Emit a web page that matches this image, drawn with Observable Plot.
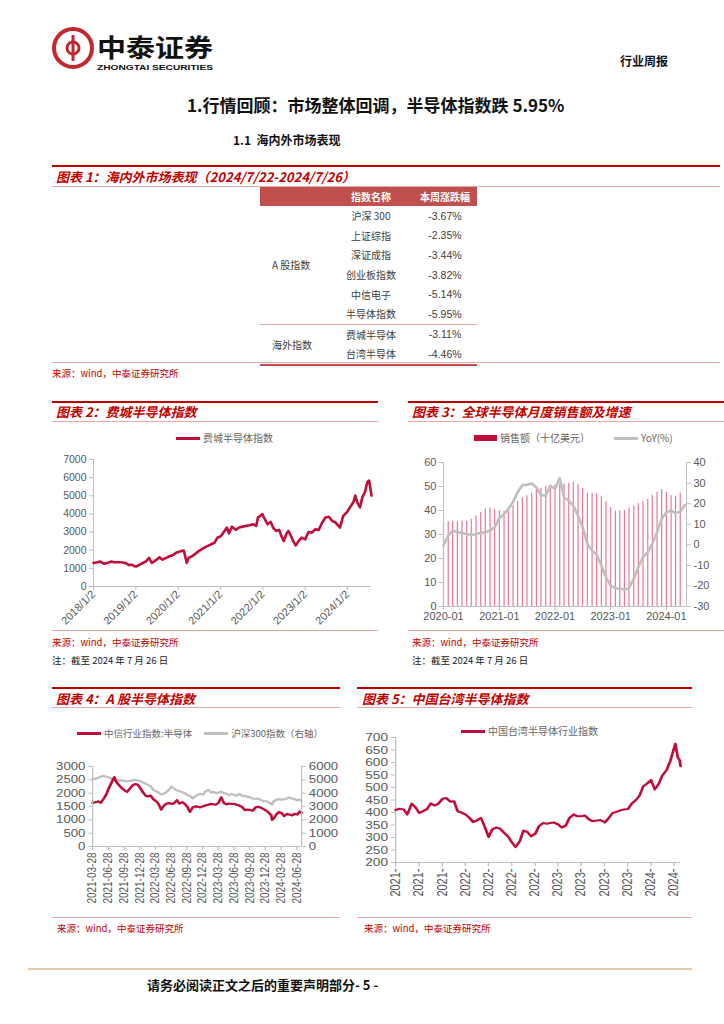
<!DOCTYPE html>
<html lang="zh-CN">
<head>
<meta charset="utf-8">
<script src="https://cdn.jsdelivr.net/npm/d3@7"></script>
<script src="https://cdn.jsdelivr.net/npm/@observablehq/plot@0.6"></script>
<style>
html,body{margin:0;padding:0;background:#fff}
body{width:724px;height:1024px;position:relative;overflow:hidden;font-family:"Noto Sans CJK SC","Liberation Sans",Arial,sans-serif}
.a{position:absolute;white-space:nowrap}
.rl{position:absolute;height:2px;background:#c00000}
.pl{position:absolute;height:1px;background:#eba8a8}
.ttl{position:absolute;white-space:nowrap;font-weight:700;font-style:italic;color:#c00000;font-size:13px;line-height:16px}
.src{position:absolute;white-space:nowrap;color:#c00000;font-size:9.5px;line-height:12px}
.note{position:absolute;white-space:nowrap;color:#222;font-size:9.5px;line-height:12px}
.lg{position:absolute;white-space:nowrap;display:flex;align-items:center;font-size:10px;color:#666;line-height:12px}
.sw{display:inline-block;height:3px;width:24px;margin-right:3px}
.plot{position:absolute}
.plot svg{transform-origin:0 0}
table.t{position:absolute;left:260px;top:187px;border-collapse:collapse;table-layout:fixed;width:217px}
table.t td,table.t th{padding:0;height:19.6px;font-size:10px;color:#404040;font-weight:400}
table.t th{background:#c0504d;color:#fff;font-weight:700;height:19px}
</style>
</head>
<body>
<!-- header -->
<svg class="a" style="left:48px;top:24px" width="180" height="50">
  <circle cx="25" cy="24" r="19" fill="none" stroke="#c1272d" stroke-width="4"/>
  <path d="M25 11 V37" stroke="#c1272d" stroke-width="3"/>
  <path d="M25 18 A6 6 0 1 0 25 30" fill="none" stroke="#c1272d" stroke-width="3"/>
  <path d="M25 18 A6 6 0 1 1 25 30" fill="none" stroke="#c1272d" stroke-width="3"/>
  <text x="49" y="33" font-size="25" font-weight="700" fill="#111" textLength="116" lengthAdjust="spacingAndGlyphs" font-family="Noto Sans CJK SC">中泰证券</text>
  <text x="49" y="46" font-size="8" font-weight="700" fill="#111" textLength="116" lengthAdjust="spacingAndGlyphs" font-family="Liberation Sans, Arial">ZHONGTAI SECURITIES</text>
</svg>
<div class="a" style="left:620px;top:52px;font-size:12px;font-weight:700;color:#111">行业周报</div>
<div class="a" style="left:187px;top:94px;font-size:17px;font-weight:700;color:#111;line-height:22px">1.行情回顾：市场整体回调，半导体指数跌 5.95%</div>
<div class="a" style="left:233px;top:132px;font-size:12px;font-weight:700;color:#111;line-height:16px">1.1&nbsp; 海内外市场表现</div>

<!-- figure 1 -->
<div class="rl" style="left:52px;top:165px;width:668px"></div>
<div class="ttl" style="left:56px;top:169px">图表 1：海内外市场表现（2024/7/22-2024/7/26）</div>
<div class="pl" style="left:52px;top:186px;width:668px"></div>
<table class="t" id="tbl"></table>
<div class="pl" style="left:52px;top:362px;width:668px"></div>
<div class="src" style="left:52px;top:367px">来源：wind，中泰证券研究所</div>

<!-- figure 2 -->
<div class="rl" style="left:52px;top:401px;width:326px"></div>
<div class="ttl" style="left:56px;top:404px">图表 2：费城半导体指数</div>
<div class="pl" style="left:52px;top:421px;width:326px"></div>
<div class="lg" style="left:176px;top:432px"><span class="sw" style="background:#c00d3a"></span>费城半导体指数</div>
<div class="plot" id="c2" style="left:52px;top:450px"></div>
<div class="pl" style="left:52px;top:630px;width:326px"></div>
<div class="src" style="left:52px;top:636px">来源：wind，中泰证券研究所</div>
<div class="note" style="left:52px;top:654px">注：截至 2024 年 7 月 26 日</div>

<!-- figure 3 -->
<div class="rl" style="left:408px;top:401px;width:316px"></div>
<div class="ttl" style="left:412px;top:404px">图表 3：全球半导体月度销售额及增速</div>
<div class="pl" style="left:408px;top:421px;width:316px"></div>
<div class="lg" style="left:474px;top:432px"><span class="sw" style="background:#c00d3a;height:6px;width:23px"></span>销售额（十亿美元）<span class="sw" style="background:#bfbfbf;margin-left:24px"></span>YoY(%)</div>
<div class="plot" id="c3" style="left:408px;top:452px"></div>
<div class="pl" style="left:408px;top:630px;width:316px"></div>
<div class="src" style="left:412px;top:636px">来源：wind，中泰证券研究所</div>
<div class="note" style="left:412px;top:654px">注：截至 2024 年 7 月 26 日</div>

<!-- figure 4 -->
<div class="rl" style="left:52px;top:687px;width:288px"></div>
<div class="ttl" style="left:56px;top:691px">图表 4：A 股半导体指数</div>
<div class="pl" style="left:52px;top:707px;width:288px"></div>
<div class="lg" style="left:77px;top:727px;font-size:9.5px"><span class="sw" style="background:#c00d3a"></span>中信行业指数:半导体<span class="sw" style="background:#bfbfbf;margin-left:12px"></span>沪深300指数（右轴）</div>
<div class="plot" id="c4" style="left:52px;top:755px"></div>
<div class="pl" style="left:52px;top:917px;width:288px"></div>
<div class="src" style="left:57px;top:922px">来源：wind，中泰证券研究所</div>

<!-- figure 5 -->
<div class="rl" style="left:357px;top:687px;width:335px"></div>
<div class="ttl" style="left:362px;top:691px">图表 5：中国台湾半导体指数</div>
<div class="pl" style="left:357px;top:707px;width:335px"></div>
<div class="lg" style="left:461px;top:725px"><span class="sw" style="background:#c00d3a"></span>中国台湾半导体行业指数</div>
<div class="plot" id="c5" style="left:357px;top:728px"></div>
<div class="pl" style="left:357px;top:917px;width:335px"></div>
<div class="src" style="left:364px;top:922px">来源：wind，中泰证券研究所</div>

<!-- footer -->
<div class="a" style="left:28px;top:968px;width:664px;height:2px;background:#e8c9ae"></div>
<div class="a" style="left:147px;top:977px;font-size:13px;font-weight:700;color:#111;line-height:16px">请务必阅读正文之后的重要声明部分- 5 -</div>

<script>
// ---------- Figure 1 table ----------
const tableHeader = ["指数名称", "本周涨跌幅"];
const groupA = "A 股指数";
const groupOverseas = "海外指数";
const aIndexNames = ["沪深 300", "上证综指", "深证成指", "创业板指数", "中信电子", "半导体指数"];
const aIndexChanges = [-3.67, -2.35, -3.44, -3.82, -5.14, -5.95];
const overseasNames = ["费城半导体", "台湾半导体"];
const overseasChanges = [-3.11, -4.46];

// ---------- Figure 2: 费城半导体指数 ----------
const soxDates = ["2018-01-02","2018-02-03","2018-03-01","2018-04-01","2018-05-01","2018-06-01","2018-07-01","2018-08-01","2018-09-01","2018-10-01","2018-11-01","2018-12-01","2018-12-24","2019-01-08","2019-02-20","2019-04-01","2019-04-25","2019-05-20","2019-06-25","2019-07-25","2019-08-20","2019-09-20","2019-10-20","2019-11-15","2019-12-15","2020-01-28","2020-02-20","2020-03-16","2020-04-01","2020-05-01","2020-05-28","2020-06-28","2020-08-10","2020-09-10","2020-10-10","2020-11-10","2020-12-05","2021-01-05","2021-02-05","2021-02-25","2021-03-15","2021-04-10","2021-05-12","2021-06-10","2021-07-10","2021-08-08","2021-09-08","2021-10-08","2021-11-05","2021-11-20","2021-12-10","2021-12-28","2022-01-18","2022-02-10","2022-03-10","2022-03-30","2022-04-25","2022-05-22","2022-06-10","2022-07-01","2022-07-25","2022-08-10","2022-09-01","2022-09-20","2022-10-12","2022-11-05","2022-12-01","2023-01-01","2023-01-30","2023-03-01","2023-03-28","2023-04-28","2023-05-28","2023-06-25","2023-07-25","2023-08-20","2023-09-20","2023-10-15","2023-10-28","2023-11-25","2023-12-25","2024-01-22","2024-02-20","2024-03-08","2024-03-25","2024-04-18","2024-05-08","2024-05-30","2024-06-20","2024-07-05","2024-07-15","2024-07-26"];
const soxValues = [1300,1335,1370,1260,1300,1370,1335,1335,1335,1300,1190,1190,1110,1110,1260,1390,1580,1300,1450,1610,1480,1580,1670,1725,1855,1950,1985,1300,1580,1670,1800,1950,2130,2225,2320,2410,2690,2780,3060,3250,2930,3300,3120,3250,3300,3340,3375,3430,3340,3800,3895,3990,3710,3430,3560,3250,3060,3120,2780,2500,2930,3060,2780,2500,2260,2500,2690,2600,3000,2970,3150,3120,3525,3800,3840,3620,3525,3340,3250,3895,4080,4360,4640,5010,4640,4360,4920,5195,5750,5840,5470,5010];
const soxYTicks = [0,1000,2000,3000,4000,5000,6000,7000];
const soxXTicks = ["2018-01-02","2019-01-02","2020-01-02","2021-01-02","2022-01-02","2023-01-02","2024-01-02"];

// ---------- Figure 3: 全球半导体月度销售额及增速 ----------
const salesMonths = ["2020-01","2020-02","2020-03","2020-04","2020-05","2020-06","2020-07","2020-08","2020-09","2020-10","2020-11","2020-12","2021-01","2021-02","2021-03","2021-04","2021-05","2021-06","2021-07","2021-08","2021-09","2021-10","2021-11","2021-12","2022-01","2022-02","2022-03","2022-04","2022-05","2022-06","2022-07","2022-08","2022-09","2022-10","2022-11","2022-12","2023-01","2023-02","2023-03","2023-04","2023-05","2023-06","2023-07","2023-08","2023-09","2023-10","2023-11","2023-12","2024-01","2024-02","2024-03","2024-04","2024-05"];
const salesValues = [35.0,35.3,35.3,35.3,35.6,35.5,36.4,37.8,39.2,40.6,41.0,40.3,39.9,39.6,41.0,42.0,43.8,45.2,46.1,47.2,48.9,49.3,50.0,50.3,50.6,50.7,51.0,51.4,51.8,50.8,49.2,47.3,47.1,47.0,45.7,43.6,41.3,39.7,39.9,40.0,41.0,41.9,42.9,43.6,44.7,46.3,47.6,48.6,47.7,46.3,46.0,47.2,null];
const yoyValues = [-0.4,4.5,6.9,6.1,5.8,5.1,4.9,5.1,5.8,6.1,6.9,8.5,12.9,15.0,17.4,20.9,25.5,29.0,29.2,29.8,27.9,24.2,23.8,28.7,27.1,32.4,23.0,21.4,19.0,14.2,8.5,0.4,-2.8,-4.9,-10.1,-15.7,-19.8,-21.1,-21.4,-21.7,-21.1,-16.5,-10.9,-6.0,-3.6,0.4,6.1,12.5,15.8,16.6,15.4,16.1,19.3];
const salesTicks = [0,10,20,30,40,50,60];
const yoyTicks = [-30,-20,-10,0,10,20,30,40];
const salesXTicks = ["2020-01","2021-01","2022-01","2023-01","2024-01"];

// ---------- Figure 4: A股半导体指数 ----------
const aDates = ["2021-03-28","2021-04-15","2021-05-01","2021-05-15","2021-06-01","2021-06-15","2021-07-01","2021-07-15","2021-08-01","2021-08-15","2021-09-01","2021-09-15","2021-10-01","2021-10-15","2021-11-01","2021-11-15","2021-12-01","2021-12-15","2022-01-01","2022-01-15","2022-02-01","2022-02-15","2022-03-01","2022-03-15","2022-04-01","2022-04-15","2022-05-01","2022-05-15","2022-06-01","2022-06-15","2022-07-01","2022-07-15","2022-08-01","2022-08-15","2022-09-01","2022-09-15","2022-10-01","2022-10-15","2022-11-01","2022-11-15","2022-12-01","2022-12-15","2023-01-01","2023-01-15","2023-02-01","2023-02-15","2023-03-01","2023-03-15","2023-04-01","2023-04-15","2023-05-01","2023-05-15","2023-06-01","2023-06-15","2023-07-01","2023-07-15","2023-08-01","2023-08-15","2023-09-01","2023-09-15","2023-10-01","2023-10-15","2023-11-01","2023-11-15","2023-12-01","2023-12-15","2024-01-01","2024-01-15","2024-02-01","2024-02-05","2024-02-15","2024-03-01","2024-03-15","2024-04-01","2024-04-15","2024-05-01","2024-05-15","2024-06-01","2024-06-15","2024-07-01","2024-07-15","2024-07-26"];
const citicSemi = [1640,1660,1690,1640,1800,1950,2200,2380,2600,2400,2280,2180,2100,2050,2180,2290,2340,2320,2180,2030,1900,1880,1910,1780,1700,1600,1380,1520,1610,1630,1600,1620,1740,1610,1660,1600,1480,1300,1470,1500,1490,1470,1510,1540,1570,1600,1580,1570,1650,1840,1630,1580,1610,1600,1600,1560,1530,1480,1360,1380,1370,1340,1470,1490,1460,1410,1350,1280,1160,1000,1050,1200,1290,1250,1140,1220,1200,1170,1220,1200,1310,1260];
const hs300 = [5075,5075,5150,5250,5300,5230,5180,5100,4950,4920,4980,4950,4900,4900,4920,4960,5000,4950,4900,4800,4700,4600,4520,4250,4150,4050,3900,3950,4100,4250,4480,4350,4200,4150,4080,4000,3850,3800,3600,3780,3880,3950,3900,4150,4250,4050,4100,4000,4050,4100,4020,3960,3850,3950,3850,3820,3950,3780,3800,3720,3690,3600,3570,3600,3500,3400,3430,3300,3200,3150,3400,3500,3550,3520,3530,3600,3680,3600,3550,3460,3520,3400];
const aLeftTicks = [0,500,1000,1500,2000,2500,3000];
const aRightTicks = [0,1000,2000,3000,4000,5000,6000];
const aXTicks = ["2021-03-28","2021-06-28","2021-09-28","2021-12-28","2022-03-28","2022-06-28","2022-09-28","2022-12-28","2023-03-28","2023-06-28","2023-09-28","2023-12-28","2024-03-28","2024-06-28"];

// ---------- Figure 5: 中国台湾半导体指数 ----------
const twDates = ["2021-06-30","2021-07-15","2021-08-01","2021-08-15","2021-09-01","2021-09-15","2021-10-01","2021-10-15","2021-11-01","2021-11-15","2021-12-01","2021-12-15","2022-01-01","2022-01-15","2022-02-01","2022-02-15","2022-03-01","2022-03-15","2022-04-01","2022-04-15","2022-05-01","2022-05-15","2022-06-01","2022-06-15","2022-07-01","2022-07-15","2022-08-01","2022-08-15","2022-09-01","2022-09-15","2022-10-01","2022-10-15","2022-11-01","2022-11-15","2022-12-01","2022-12-15","2023-01-01","2023-01-15","2023-02-01","2023-02-15","2023-03-01","2023-03-15","2023-04-01","2023-04-15","2023-05-01","2023-05-15","2023-06-01","2023-06-15","2023-07-01","2023-07-15","2023-08-01","2023-08-15","2023-09-01","2023-09-15","2023-10-01","2023-10-15","2023-11-01","2023-11-15","2023-12-01","2023-12-15","2024-01-01","2024-01-15","2024-02-01","2024-02-15","2024-03-01","2024-03-15","2024-04-01","2024-04-15","2024-05-01","2024-05-15","2024-06-01","2024-06-15","2024-07-01","2024-07-05","2024-07-15","2024-07-22","2024-07-26"];
const twValues = [410,415,412,392,435,422,398,405,414,436,428,435,455,458,443,445,405,400,392,380,362,368,378,345,302,332,340,335,318,305,280,262,285,328,322,305,315,345,358,355,358,360,352,340,348,378,392,385,385,388,372,365,368,370,360,375,398,402,408,412,414,435,450,467,505,515,530,492,515,548,570,605,660,675,620,610,585];
const twYTicks = [200,250,300,350,400,450,500,550,600,650,700];
const twXTicks = ["2021-06-30","2021-09-30","2021-12-31","2022-03-31","2022-06-30","2022-09-30","2022-12-31","2023-03-31","2023-06-30","2023-09-30","2023-12-31","2024-03-31","2024-06-30"];

// ---------- build table ----------
(function(){
  const t = document.getElementById("tbl");
  let html = '<colgroup><col style="width:69px"><col style="width:84px"><col style="width:64px"></colgroup>';
  html += `<tr><th></th><th>${tableHeader[0]}</th><th>${tableHeader[1]}</th></tr>`;
  const fmt = v => v.toFixed(2) + "%";
  aIndexNames.forEach((n,i) => {
    html += '<tr>' + (i===0 ? `<td rowspan="${aIndexNames.length}" style="padding-left:12px;vertical-align:middle">${groupA}</td>` : '') +
      `<td style="text-align:center">${n}</td><td style="text-align:center;font-family:'Liberation Sans',Arial;font-size:10.5px">${fmt(aIndexChanges[i])}</td></tr>`;
  });
  overseasNames.forEach((n,i) => {
    const bt = i===0 ? 'border-top:1px solid #eba8a8;' : '';
    const bb = i===overseasNames.length-1 ? 'border-bottom:2px solid #c0504d;' : '';
    html += '<tr>' + (i===0 ? `<td rowspan="${overseasNames.length}" style="${bt}border-bottom:2px solid #c0504d;padding-left:12px;vertical-align:middle">${groupOverseas}</td>` : '') +
      `<td style="${bt}${bb}text-align:center">${n}</td><td style="${bt}${bb}text-align:center;font-family:'Liberation Sans',Arial;font-size:10.5px">${fmt(overseasChanges[i])}</td></tr>`;
  });
  t.innerHTML = html;
})();

const RED = "#c00d3a", GRAY = "#bfbfbf", AX = "#bfbfbf", TX = "#595959";
const baseStyle = {fontFamily: "'Liberation Sans', Arial, sans-serif", fontSize: "11px", color: TX, background: "transparent", overflow: "visible"};
const D = s => new Date(s.length === 7 ? s + "-01" : s);
const intFmt = d3.format("d");
// the original report's charts 4 and 5 are stretched horizontally; mimic by scaling the svg
const stretch = (svg, sx) => { svg.style.transform = `scale(${sx},1)`; return svg; };

// ---------- Figure 2 ----------
{
  const data = soxDates.map((d,i) => ({date: D(d), v: soxValues[i]}));
  const x0 = D("2018-01-02"), x1 = D("2024-07-26");
  const svg = Plot.plot({
    width: 328, height: 180, marginLeft: 41, marginRight: 9, marginTop: 9, marginBottom: 44,
    style: baseStyle,
    x: {type: "utc", domain: [x0, x1], label: null},
    y: {domain: [0, 7000], label: null},
    marks: [
      Plot.ruleY([0], {stroke: AX}),
      Plot.ruleX([x0], {stroke: AX}),
      Plot.axisY({ticks: soxYTicks, tickFormat: intFmt, tickSize: 4, tickPadding: 3, stroke: AX, fill: TX, fontSize: 10.5, label: null}),
      Plot.axisX({ticks: soxXTicks.map(D), tickSize: 4, tickPadding: 2, tickRotate: -45, tickFormat: d3.utcFormat("%Y/%-m/%-d"), stroke: AX, fill: TX, fontSize: 11, label: null}),
      Plot.line(data, {x: "date", y: "v", stroke: RED, strokeWidth: 2.6, strokeLinejoin: "round"})
    ]
  });
  document.getElementById("c2").append(svg);
}

// ---------- Figure 3 ----------
{
  const data = salesMonths.map((m,i) => ({date: D(m), sales: salesValues[i], yoy: yoyValues[i]}));
  const toLeft = v => (v + 30) * 60 / 70;
  const x0 = D("2020-01-01"), x1 = D("2024-05-12");
  const svg = Plot.plot({
    width: 316, height: 178, marginLeft: 35, marginRight: 38, marginTop: 10, marginBottom: 24,
    style: baseStyle,
    x: {type: "utc", domain: [x0, x1], label: null},
    y: {domain: [0, 60], label: null},
    marks: [
      Plot.ruleX(data.filter(d => d.sales != null), {x: "date", y1: 0, y2: "sales", stroke: "#e57b95", strokeWidth: 1.2}),
      Plot.line(data, {x: "date", y: d => toLeft(d.yoy), stroke: GRAY, strokeWidth: 2.6}),
      Plot.ruleY([0], {stroke: AX}),
      Plot.ruleX([x0, x1], {stroke: AX}),
      Plot.axisY({ticks: salesTicks, tickFormat: intFmt, tickSize: 4, tickPadding: 3, stroke: AX, fill: TX, fontSize: 11, label: null}),
      Plot.axisY({anchor: "right", ticks: yoyTicks.map(toLeft), tickFormat: v => String(Math.round(v * 70 / 60 - 30)), tickSize: 4, tickPadding: 3, stroke: AX, fill: TX, fontSize: 11, label: null}),
      Plot.axisX({ticks: salesXTicks.map(D), tickSize: 4, tickPadding: 2, tickFormat: d3.utcFormat("%Y-%m"), stroke: AX, fill: TX, fontSize: 11, label: null})
    ]
  });
  document.getElementById("c3").append(svg);
}

// ---------- Figure 4 ----------
{
  const sx = 1.2;
  const data = aDates.map((d,i) => ({date: D(d), semi: citicSemi[i], hs: hs300[i]}));
  const x0 = D("2021-03-28"), x1 = D("2024-07-26");
  const svg = Plot.plot({
    width: 288 / sx, height: 163, marginLeft: 40 / sx, marginRight: 39 / sx, marginTop: 11, marginBottom: 72,
    style: baseStyle,
    x: {type: "utc", domain: [x0, x1], label: null},
    y: {domain: [0, 3000], label: null},
    marks: [
      Plot.line(data, {x: "date", y: d => d.hs / 2, stroke: GRAY, strokeWidth: 2.2}),
      Plot.line(data, {x: "date", y: "semi", stroke: RED, strokeWidth: 2.3}),
      Plot.ruleY([0], {stroke: AX}),
      Plot.ruleX([x0, x1], {stroke: AX}),
      Plot.axisY({ticks: aLeftTicks, tickFormat: intFmt, tickSize: 3, tickPadding: 3, stroke: AX, fill: TX, fontSize: 11, label: null}),
      Plot.axisY({anchor: "right", ticks: aRightTicks.map(v => v / 2), tickFormat: v => String(v * 2), tickSize: 3, tickPadding: 3, stroke: AX, fill: TX, fontSize: 11, label: null}),
      Plot.axisX({ticks: aXTicks.map(D), tickSize: 4, tickPadding: 2, tickRotate: -90, tickFormat: d3.utcFormat("%Y-%m-%d"), stroke: AX, fill: TX, fontSize: 10, label: null})
    ]
  });
  document.getElementById("c4").append(stretch(svg, sx));
}

// ---------- Figure 5 ----------
{
  const sx = 1.25;
  const data = twDates.map((d,i) => ({date: D(d), v: twValues[i]}));
  const x0 = D("2021-06-30"), x1 = D("2024-07-26");
  const svg = Plot.plot({
    width: 335 / sx, height: 190, marginLeft: 38 / sx, marginRight: 12 / sx, marginTop: 9, marginBottom: 56,
    style: baseStyle,
    x: {type: "utc", domain: [x0, x1], label: null},
    y: {domain: [200, 700], label: null},
    marks: [
      Plot.ruleY([200], {stroke: AX}),
      Plot.ruleX([x0], {stroke: AX}),
      Plot.axisY({ticks: twYTicks, tickFormat: intFmt, tickSize: 3, tickPadding: 3, stroke: AX, fill: TX, fontSize: 11, label: null}),
      Plot.axisX({ticks: twXTicks.map(D), tickSize: 4, tickPadding: 2, tickRotate: -90, tickFormat: d3.utcFormat("%Y-"), stroke: AX, fill: TX, fontSize: 11, label: null}),
      Plot.line(data, {x: "date", y: "v", stroke: RED, strokeWidth: 2.2, strokeLinejoin: "round"})
    ]
  });
  document.getElementById("c5").append(stretch(svg, sx));
}
</script>
</body>
</html>
